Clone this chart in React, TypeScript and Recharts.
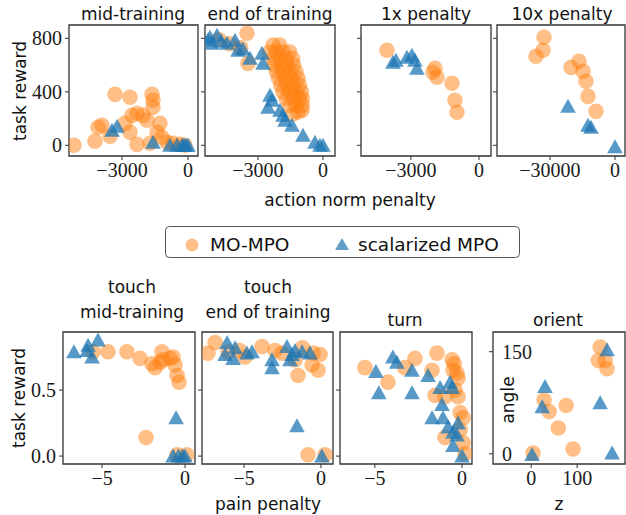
import { ScatterChart, Scatter, XAxis, YAxis, ReferenceArea } from 'recharts';

type Pair = [number, number];

// action norm penalty vs task reward (humanoid)
const midTrainMO: Pair[] = [
  [-5180, 0], [-3318, 381], [-2636, 359], [-1636, 381], [-1591, 337], [-1591, 284], [-3909, 150],
  [-4090, 135], [-4227, 30], [-3545, 67], [-2864, 164], [-2636, 97], [-2545, 224], [-2318, 239],
  [-2045, 224], [-1864, 187], [-2318, 7], [-1273, 164], [-1409, 97], [-1182, 60], [-1727, 15],
  [-955, 22], [-682, 15], [-364, 7], [-136, 0],
];
const midTrainSC: Pair[] = [
  [-3455, 112], [-3227, 142], [-1591, 22], [-818, 0], [-500, 0], [-270, 0], [-180, 0], [-90, 0], [0, 0],
];
const endTrainMO: Pair[] = [
  [-4800, 790], [-4300, 760], [-3800, 730], [-3508, 838], [-3461, 613],
  [-2300, 750], [-2000, 750],
  [-2450, 700], [-2150, 700], [-1850, 700], [-1550, 700],
  [-2300, 650], [-2000, 650], [-1700, 650], [-1400, 650],
  [-2250, 600], [-1950, 600], [-1650, 600], [-1350, 600],
  [-2150, 550], [-1850, 550], [-1550, 550], [-1250, 550],
  [-2050, 500], [-1750, 500], [-1450, 500], [-1150, 500],
  [-1950, 450], [-1650, 450], [-1350, 450], [-1080, 450],
  [-1850, 400], [-1550, 400], [-1250, 400], [-1000, 400],
  [-1700, 350], [-1400, 350], [-1100, 350], [-950, 350],
  [-1550, 300], [-1250, 300], [-950, 300],
  [-1385, 235], [-969, 262], [-1150, 250],
];
const endTrainSC: Pair[] = [
  [-5300, 790], [-5215, 808], [-4892, 823], [-5123, 763], [-4700, 780], [-4430, 763], [-4061, 785],
  [-3923, 711], [-3700, 720], [-3369, 651], [-2815, 688], [-2769, 613], [-2446, 374], [-2354, 337],
  [-2538, 284], [-1985, 262], [-1846, 224], [-1754, 187], [-1431, 150], [-923, 75], [-369, 22],
  [-138, 0], [0, 0],
];
const pen1xMO: Pair[] = [
  [-4057, 711], [-1940, 576], [-1852, 509], [-1191, 464], [-1058, 337], [-970, 247], [-2029, 546],
];
const pen1xSC: Pair[] = [
  [-3660, 636], [-3175, 658], [-2955, 673], [-2822, 636], [-2734, 576], [-3793, 621],
];
const pen10xMO: Pair[] = [
  [-32769, 808], [-33230, 711], [-36460, 666], [-20300, 583], [-16615, 628], [-14770, 553],
  [-13385, 479], [-12460, 366], [-8770, 254],
];
const pen10xSC: Pair[] = [[-21690, 292], [-12460, 150], [-11080, 135], [0, -10]];

// pain penalty vs task reward (shadow hand)
const touchMidMO: Pair[] = [
  [-5.54, 0.79], [-4.64, 0.79], [-3.5, 0.79], [-2.71, 0.74], [-1.99, 0.7], [-1.8, 0.67], [-1.39, 0.79],
  [-1.33, 0.73], [-0.9, 0.74], [-0.72, 0.75], [-0.6, 0.69], [-0.48, 0.61], [-0.36, 0.56], [-2.35, 0.14],
  [-0.48, 0.01], [0.1, 0.01], [-1.5, 0.71],
];
const touchMidSC: Pair[] = [
  [-6.69, 0.79], [-5.84, 0.84], [-5.24, 0.88], [-5.6, 0.75], [-5.9, 0.8], [-0.54, 0.29], [-0.72, 0],
  [-0.4, 0], [-0.15, 0], [0, 0],
];
const touchEndMO: Pair[] = [
  [-7.34, 0.78], [-6.88, 0.86], [-6.04, 0.79], [-5.3, 0.8], [-4.94, 0.75], [-3.83, 0.83], [-2.99, 0.8],
  [-2.53, 0.78], [-1.69, 0.73], [-1.49, 0.61], [-0.58, 0.69], [-0.19, 0.65], [-0.06, 0.77], [-0.5, 0.78],
  [-1.2, 0.82], [-0.84, 0.01], [0.26, 0.01],
];
const touchEndSC: Pair[] = [
  [-6.1, 0.86], [-6.23, 0.77], [-5.58, 0.82], [-5.71, 0.74], [-4.81, 0.78], [-4.48, 0.79], [-3.18, 0.73],
  [-3.18, 0.67], [-2.21, 0.83], [-1.88, 0.77], [-1.69, 0.8], [-1.23, 0.79], [-0.71, 0.78], [-2.01, 0.73],
  [-1.56, 0.23], [0.06, 0],
];
const turnMO: Pair[] = [
  [-5.57, 0.67], [-4.25, 0.56], [-2.7, 0.74], [-3.28, 0.67], [-1.44, 0.78], [-1.72, 0.65], [-0.57, 0.73],
  [-0.45, 0.7], [-0.29, 0.63], [-0.23, 0.59], [-1.55, 0.46], [-0.98, 0.45], [-0.4, 0.5], [-0.23, 0.45],
  [-0.11, 0.33], [0.06, 0.29], [-0.98, 0.14], [-0.11, 0.2], [0.06, 0.1], [0.17, 0.02], [-0.52, 0.65],
];
const turnSC: Pair[] = [
  [-3.97, 0.75], [-3.74, 0.71], [-4.94, 0.64], [-2.87, 0.65], [-4.77, 0.48], [-2.87, 0.48], [-1.95, 0.61],
  [-1.26, 0.52], [-0.69, 0.56], [-0.57, 0.52], [-1.15, 0.39], [-1.72, 0.29], [-1.09, 0.29], [-0.8, 0.22],
  [-0.23, 0.25], [-0.52, 0.18], [-0.29, 0.16], [-0.52, 0.08], [0, 0],
];
// z vs angle
const orientMO: Pair[] = [
  [150, 157], [146, 137], [161, 137], [165, 125], [28, 79], [39, 62], [76, 71], [59, 38], [91, 7], [4, 1],
];
const orientSC: Pair[] = [[165, 153], [30, 99], [24, 69], [150, 75], [2, -1], [176, 1]];

const topXTicks = [-3000, 0];
const tenXTicks = [-30000, 0];
const rewardTicks = [0, 400, 800];
const painTicks = [-5, 0];
const handRewardTicks = [0, 0.5];
const zTicks = [0, 100];
const angleTicks = [0, 150];

const ORANGE = '#ff7f0e';
const BLUE = '#1f77b4';
const SERIF = "'Liberation Serif', 'DejaVu Serif', serif";
const SANS = "'DejaVu Sans', sans-serif";

const toXY = (arr: Pair[]) => arr.map(([x, y]) => ({ x, y }));

const fmt = (dec: number) => (v: number) => {
  const s = Math.abs(v).toFixed(dec);
  return v < 0 ? '\u2212' + s : s;
};

const Circle = (p: any) => <circle cx={p.cx} cy={p.cy} r={7.8} fill={ORANGE} fillOpacity={0.5} />;
const Tri = (p: any) => (
  <polygon
    points={`${p.cx},${p.cy - 7.5} ${p.cx - 7.8},${p.cy + 6.5} ${p.cx + 7.8},${p.cy + 6.5}`}
    fill={BLUE}
    fillOpacity={0.75}
  />
);
const NoTick = () => <g />;

interface PanelProps {
  L: number; T: number; W: number; H: number;
  xDomain: [number, number]; yDomain: [number, number];
  xTicks: number[]; yTicks: number[];
  xDec?: number; yDec?: number;
  yLabels?: boolean; insideY?: boolean;
  mo: Pair[]; sc: Pair[];
}

const Panel = ({ L, T, W, H, xDomain, yDomain, xTicks, yTicks, xDec = 0, yDec = 0, yLabels = false, insideY = false, mo, sc }: PanelProps) => {
  const yw = 60, mt = 2, mr = 2, xh = 32;
  const tickStyle = { fontFamily: SERIF, fontSize: 20, fill: '#1a1a1a' };
  const insideTick = (p: any) => (
    <text x={yw + 9} y={p.y} dy="0.355em" textAnchor="start" style={tickStyle}>
      {fmt(yDec)(p.payload.value)}
    </text>
  );
  return (
    <div style={{ position: 'absolute', left: L - yw, top: T - mt }}>
      <ScatterChart width={yw + W + mr} height={mt + H + xh} margin={{ top: mt, right: mr, bottom: 0, left: 0 }}>
        <XAxis type="number" dataKey="x" domain={xDomain} ticks={xTicks} allowDataOverflow interval={0}
          height={xh} axisLine={false} tickSize={4} tickMargin={3} tickLine={{ stroke: '#333' }}
          tick={tickStyle} tickFormatter={fmt(xDec)} />
        <YAxis type="number" dataKey="y" domain={yDomain} ticks={yTicks} allowDataOverflow interval={0}
          width={yw} axisLine={false} tickSize={4} tickMargin={3} tickLine={{ stroke: '#333' }}
          tick={insideY ? insideTick : yLabels ? tickStyle : NoTick} tickFormatter={fmt(yDec)} />
        <Scatter data={toXY(mo)} shape={Circle} isAnimationActive={false} />
        <Scatter data={toXY(sc)} shape={Tri} isAnimationActive={false} />
        <ReferenceArea x1={xDomain[0]} x2={xDomain[1]} y1={yDomain[0]} y2={yDomain[1]}
          fill="none" fillOpacity={0} stroke="#333" strokeWidth={1.3} />
      </ScatterChart>
    </div>
  );
};

const titleStyle = { fontFamily: SANS, fontSize: 17, fill: '#111' };

export default function App() {
  const topY: [number, number] = [-80, 900];
  const handY: [number, number] = [-0.06, 0.94];
  return (
    <div style={{ position: 'absolute', left: 0, top: 0, width: 626, height: 515, overflow: 'hidden', background: '#fff' }}>
      <Panel L={69} T={25} W={129} H={131} xDomain={[-5410, 455]} yDomain={topY} xTicks={topXTicks} yTicks={rewardTicks} yLabels mo={midTrainMO} sc={midTrainSC} />
      <Panel L={205} T={25} W={130} H={131} xDomain={[-5446, 554]} yDomain={topY} xTicks={topXTicks} yTicks={rewardTicks} mo={endTrainMO} sc={endTrainSC} />
      <Panel L={361} T={25} W={130} H={131} xDomain={[-5200, 530]} yDomain={topY} xTicks={topXTicks} yTicks={rewardTicks} mo={pen1xMO} sc={pen1xSC} />
      <Panel L={497} T={25} W={128} H={131} xDomain={[-54460, 4615]} yDomain={topY} xTicks={tenXTicks} yTicks={rewardTicks} mo={pen10xMO} sc={pen10xSC} />

      <Panel L={63} T={332} W={132} H={132} xDomain={[-7.35, 0.6]} yDomain={handY} xTicks={painTicks} yTicks={handRewardTicks} yDec={1} yLabels mo={touchMidMO} sc={touchMidSC} />
      <Panel L={202} T={332} W={131} H={132} xDomain={[-7.73, 0.78]} yDomain={handY} xTicks={painTicks} yTicks={handRewardTicks} yDec={1} mo={touchEndMO} sc={touchEndSC} />
      <Panel L={340} T={332} W={132} H={132} xDomain={[-7.0, 0.57]} yDomain={handY} xTicks={painTicks} yTicks={handRewardTicks} yDec={1} mo={turnMO} sc={turnSC} />
      <Panel L={493} T={332} W={132} H={132} xDomain={[-83, 204]} yDomain={[-15, 179]} xTicks={zTicks} yTicks={angleTicks} insideY mo={orientMO} sc={orientSC} />

      <svg width={626} height={515} style={{ position: 'absolute', left: 0, top: 0, pointerEvents: 'none' }}>
        <text x={133} y={20} textAnchor="middle" style={titleStyle}>mid-training</text>
        <text x={270} y={20} textAnchor="middle" style={titleStyle}>end of training</text>
        <text x={426} y={20} textAnchor="middle" style={titleStyle}>1x penalty</text>
        <text x={562} y={20} textAnchor="middle" style={titleStyle}>10x penalty</text>
        <text x={350} y={206} textAnchor="middle" style={titleStyle}>action norm penalty</text>
        <text transform="translate(26,91) rotate(-90)" textAnchor="middle" style={titleStyle}>task reward</text>

        <rect x={165.5} y={226.5} width={354} height={31} rx={4} fill="#fff" stroke="#555" strokeWidth={1} />
        <circle cx={192} cy={245} r={6.5} fill={ORANGE} fillOpacity={0.5} />
        <text x={210} y={251} style={{ ...titleStyle, fontSize: 18.5 }}>MO-MPO</text>
        <polygon points="342,238 335,250 349,250" fill={BLUE} fillOpacity={0.7} />
        <text x={358} y={251} style={{ ...titleStyle, fontSize: 18.5 }}>scalarized MPO</text>

        <text x={132} y={293} textAnchor="middle" style={titleStyle}>touch</text>
        <text x={132} y={318} textAnchor="middle" style={titleStyle}>mid-training</text>
        <text x={268} y={293} textAnchor="middle" style={titleStyle}>touch</text>
        <text x={268} y={318} textAnchor="middle" style={titleStyle}>end of training</text>
        <text x={405} y={326} textAnchor="middle" style={titleStyle}>turn</text>
        <text x={558} y={326} textAnchor="middle" style={titleStyle}>orient</text>
        <text transform="translate(25,398) rotate(-90)" textAnchor="middle" style={titleStyle}>task reward</text>
        <text transform="translate(514,400) rotate(-90)" textAnchor="middle" style={titleStyle}>angle</text>
        <text x={268} y={510} textAnchor="middle" style={titleStyle}>pain penalty</text>
        <text x={559} y={510} textAnchor="middle" style={titleStyle}>z</text>
      </svg>
    </div>
  );
}
